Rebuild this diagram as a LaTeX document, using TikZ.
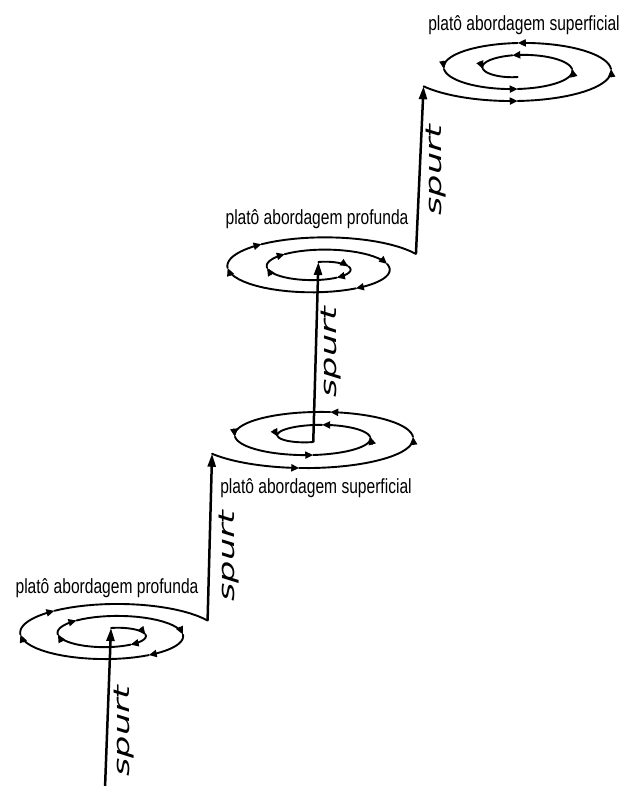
\documentclass[tikz,border=0pt]{standalone}
\usepackage{fontspec}
\usetikzlibrary{arrows.meta}
\newfontfamily\platofont[FakeStretch=0.76]{Liberation Sans}
\newfontfamily\spurtfont[FakeStretch=1.6]{DejaVu Sans}

% spiral parameters: centre x, centre y, half-width, width growth per turn,
% half-height, height growth per turn, start angle
\newcommand\setspiral[7]{\def\spCX{#1}\def\spCY{#2}\def\spAo{#3}\def\spKa{#4}\def\spBo{#5}\def\spKb{#6}\def\spTh{#7}}
% piece of the current spiral from turn #1 to turn #2
\newcommand\spiralarc[3]{%
  \draw[spiralline,#3] plot[variable=\t,domain=0:1,samples=20]
    ({\spCX+(\spAo+\spKa*((#1)+((#2)-(#1))*\t))*cos(\spTh-360*((#1)+((#2)-(#1))*\t))},
     {\spCY-(\spBo+\spKb*((#1)+((#2)-(#1))*\t))*sin(\spTh-360*((#1)+((#2)-(#1))*\t))});}
% named point of the current spiral at turn #2
\newcommand\spiralpt[2]{%
  \coordinate (#1) at ({\spCX+(\spAo+\spKa*(#2))*cos(\spTh-360*(#2))},
                       {\spCY-(\spBo+\spKb*(#2))*sin(\spTh-360*(#2))});}
% spiral running outwards from its centre, arrowheads at the listed turns
\newcommand\outspiral[3]{%
  \foreach \a/\b in {#1} {\spiralarc{\a}{\b}{marked}}
  \spiralarc{#2}{#3}{}}
% spiral running inwards to its centre, arrowheads at the listed turns
\newcommand\inspiral[2]{%
  \foreach \a/\b in {#1} {\spiralarc{\a}{\b}{marked}}
  \spiralarc{#2}{0}{}}

\tikzset{
  spiralline/.style={line width=1.9pt, line cap=round, line join=round},
  marked/.style={-{Triangle[length=8pt,width=7pt]}},
  spurtline/.style={line width=2.5pt, -{Triangle[length=13pt,width=8pt]}},
  platolabel/.style={anchor=base, inner sep=0pt, font=\platofont\fontsize{20.5}{24}\selectfont},
  spurtlabel/.style={rotate=90, inner sep=0pt, font=\spurtfont\itshape\fontsize{22}{26}\selectfont},
}

\begin{document}
\begin{tikzpicture}[x=1pt, y=-1pt]
\useasboundingbox (0,0) rectangle (619,786);

% lower deep plateau
\setspiral{111}{634.5}{25}{37.5}{6.5}{12}{90}
\outspiral{0/0.25,0.25/0.42,0.42/0.75,0.75/0.9,0.9/1.25,1.25/1.42,1.42/1.75,1.75/1.9}{1.9}{2.18}
\spiralpt{p1in}{0}
\spiralpt{p1out}{2.18}

% lower surface plateau
\setspiral{313.25}{436.75}{24.5}{43}{5.25}{13}{-90}
\inspiral{2.165/2.02,2.02/1.75,1.75/1.53,1.53/1.25,1.25/1,1/0.75,0.75/0.53,0.53/0.25}{0.25}
\spiralpt{p2in}{0}
\spiralpt{p2out}{2.165}

% upper deep plateau
\setspiral{318.4}{267.9}{21.7}{39.5}{5.9}{12.3}{90}
\outspiral{0/0.22,0.22/0.42,0.42/0.75,0.75/0.9,0.9/1.22,1.22/1.42,1.42/1.75,1.75/1.9}{1.9}{2.18}
\spiralpt{p3in}{0}
\spiralpt{p3out}{2.18}

% upper surface plateau
\setspiral{517.75}{69}{25}{39}{8}{12}{-90}
\inspiral{2.165/2,2/1.75,1.75/1.5,1.5/1.25,1.25/1,1/0.75,0.75/0.48,0.48/0.25}{0.25}
\spiralpt{p4in}{0}
\spiralpt{p4out}{2.165}

% spurts between plateaus
\coordinate (base) at (105,788);
\draw[spurtline] (base) -- (p1in);
\draw[spurtline] (p1out) -- (p2out);
\draw[spurtline] (p2in) -- (p3in);
\draw[spurtline] (p3out) -- (p4out);

\node[spurtlabel] (sp1) at (124,731) {spurt};
\node[spurtlabel] (sp2) at (229,556) {spurt};
\node[spurtlabel] (sp3) at (331,352) {spurt};
\node[spurtlabel] (sp4) at (436,170) {spurt};

\node[platolabel] (l1) at (107,593) {platô abordagem profunda};
\node[platolabel] (l2) at (316,493) {platô abordagem superficial};
\node[platolabel] (l3) at (317,225) {platô abordagem profunda};
\node[platolabel] (l4) at (524,31) {platô abordagem superficial};
\end{tikzpicture}
\end{document}
